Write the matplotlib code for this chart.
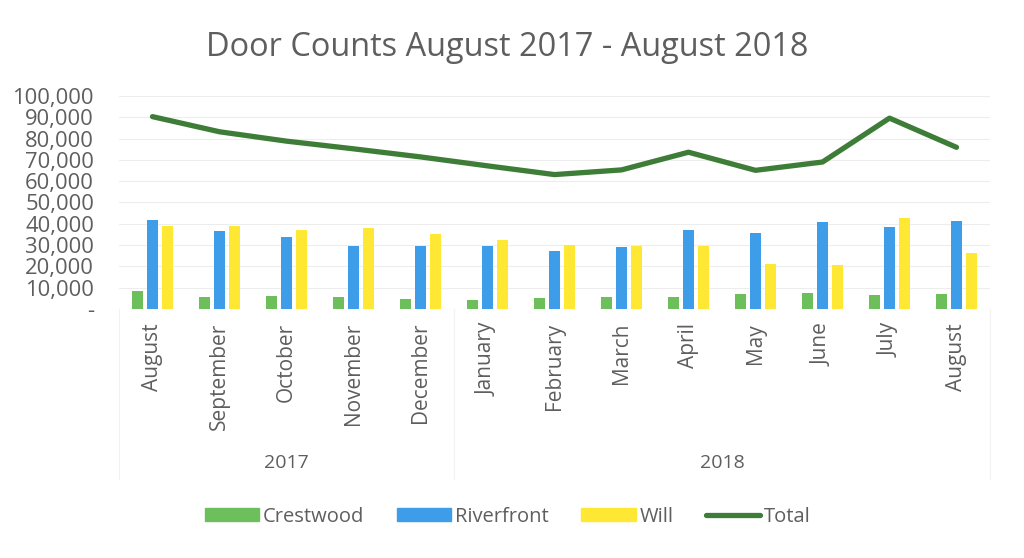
import matplotlib
matplotlib.use("Agg")
import matplotlib.pyplot as plt
import numpy as np
from matplotlib.ticker import FuncFormatter, MultipleLocator
from matplotlib.transforms import blended_transform_factory
from matplotlib.patches import Patch
from matplotlib.lines import Line2D

# Monthly door counts, August 2017 - August 2018
months = ["August", "September", "October", "November", "December",
          "January", "February", "March", "April", "May", "June", "July", "August"]
years = ["2017", "2018"]
year_spans = [(0, 4), (5, 12)]  # first / last month index in each year

crestwood = [8400, 5700, 6000, 5800, 4700, 4100, 5000, 5700, 5800, 7000, 7600, 6800, 7000]
riverfront = [42000, 36800, 33700, 29400, 29700, 29500, 27400, 28900, 37300, 35800, 40900, 38700, 41400]
will = [38900, 39200, 37300, 38100, 35400, 32500, 30000, 29700, 29600, 21100, 20600, 42500, 26400]
total = [90300, 83200, 78800, 75200, 71400, 67200, 63100, 65300, 73600, 65100, 69000, 89600, 75900]

C_GREEN = "#6DBF5C"
C_BLUE = "#3D9DE8"
C_YELLOW = "#FFE833"
C_LINE = "#3E7D37"
TXT = "#5E5E5E"

plt.rcParams["font.family"] = ["Open Sans", "DejaVu Sans"]

fig = plt.figure(figsize=(10.24, 5.58), dpi=100)
ax = fig.add_axes([0.1162, 0.4462, 0.8506, 0.3818])

x = np.arange(len(months))
bw = 0.172
off = 0.224
ax.bar(x - off, crestwood, width=bw, color=C_GREEN, zorder=2)
ax.bar(x, riverfront, width=bw, color=C_BLUE, zorder=2)
ax.bar(x + off, will, width=bw, color=C_YELLOW, zorder=2)
ax.plot(x, total, color=C_LINE, lw=3.8, solid_capstyle="round",
        solid_joinstyle="round", zorder=3)

ax.set_xlim(-0.5, len(months) - 0.5)
ax.set_ylim(0, 100000)
ax.yaxis.set_major_locator(MultipleLocator(10000))
ax.yaxis.set_major_formatter(FuncFormatter(lambda v, p: "-" if v == 0 else f"{int(v):,}"))
ax.grid(axis="y", color="#EDEDED", lw=0.8, zorder=0)
ax.set_axisbelow(True)
for s in ax.spines.values():
    s.set_visible(False)

ax.set_xticks(x)
ax.set_xticklabels(months, rotation=90, va="top", ha="center")
ax.tick_params(axis="x", length=0, pad=10, labelsize=15, labelcolor=TXT)
ax.tick_params(axis="y", length=0, pad=18, labelsize=15.8, labelcolor=TXT)

# year row of the two-level category axis
tr = blended_transform_factory(ax.transData, ax.transAxes)
for label, (a, b) in zip(years, year_spans):
    ax.text((a + b) / 2, -0.725, label, transform=tr, ha="center", va="center",
            fontsize=14, color=TXT)
for xd in (-0.5, 4.5, 12.5):
    ax.plot([xd, xd], [0, -0.80], transform=tr, color="#F2F2F2", lw=0.8,
            clip_on=False)

fig.text(0.495, 0.915, "Door Counts August 2017 - August 2018", ha="center",
         va="center", fontsize=23.4, color=TXT)

handles = [Patch(color=C_GREEN), Patch(color=C_BLUE), Patch(color=C_YELLOW),
           Line2D([], [], color=C_LINE, lw=3.8, solid_capstyle="round")]
fig.legend(handles, ["Crestwood", "Riverfront", "Will", "Total"],
           loc="center", bbox_to_anchor=(0.496, 0.074), ncol=4, frameon=False,
           fontsize=14.5, labelcolor=TXT, handlelength=2.7, handleheight=0.6,
           handletextpad=0.2, columnspacing=1.6)

fig.savefig("out.png", dpi=100, facecolor="white")
